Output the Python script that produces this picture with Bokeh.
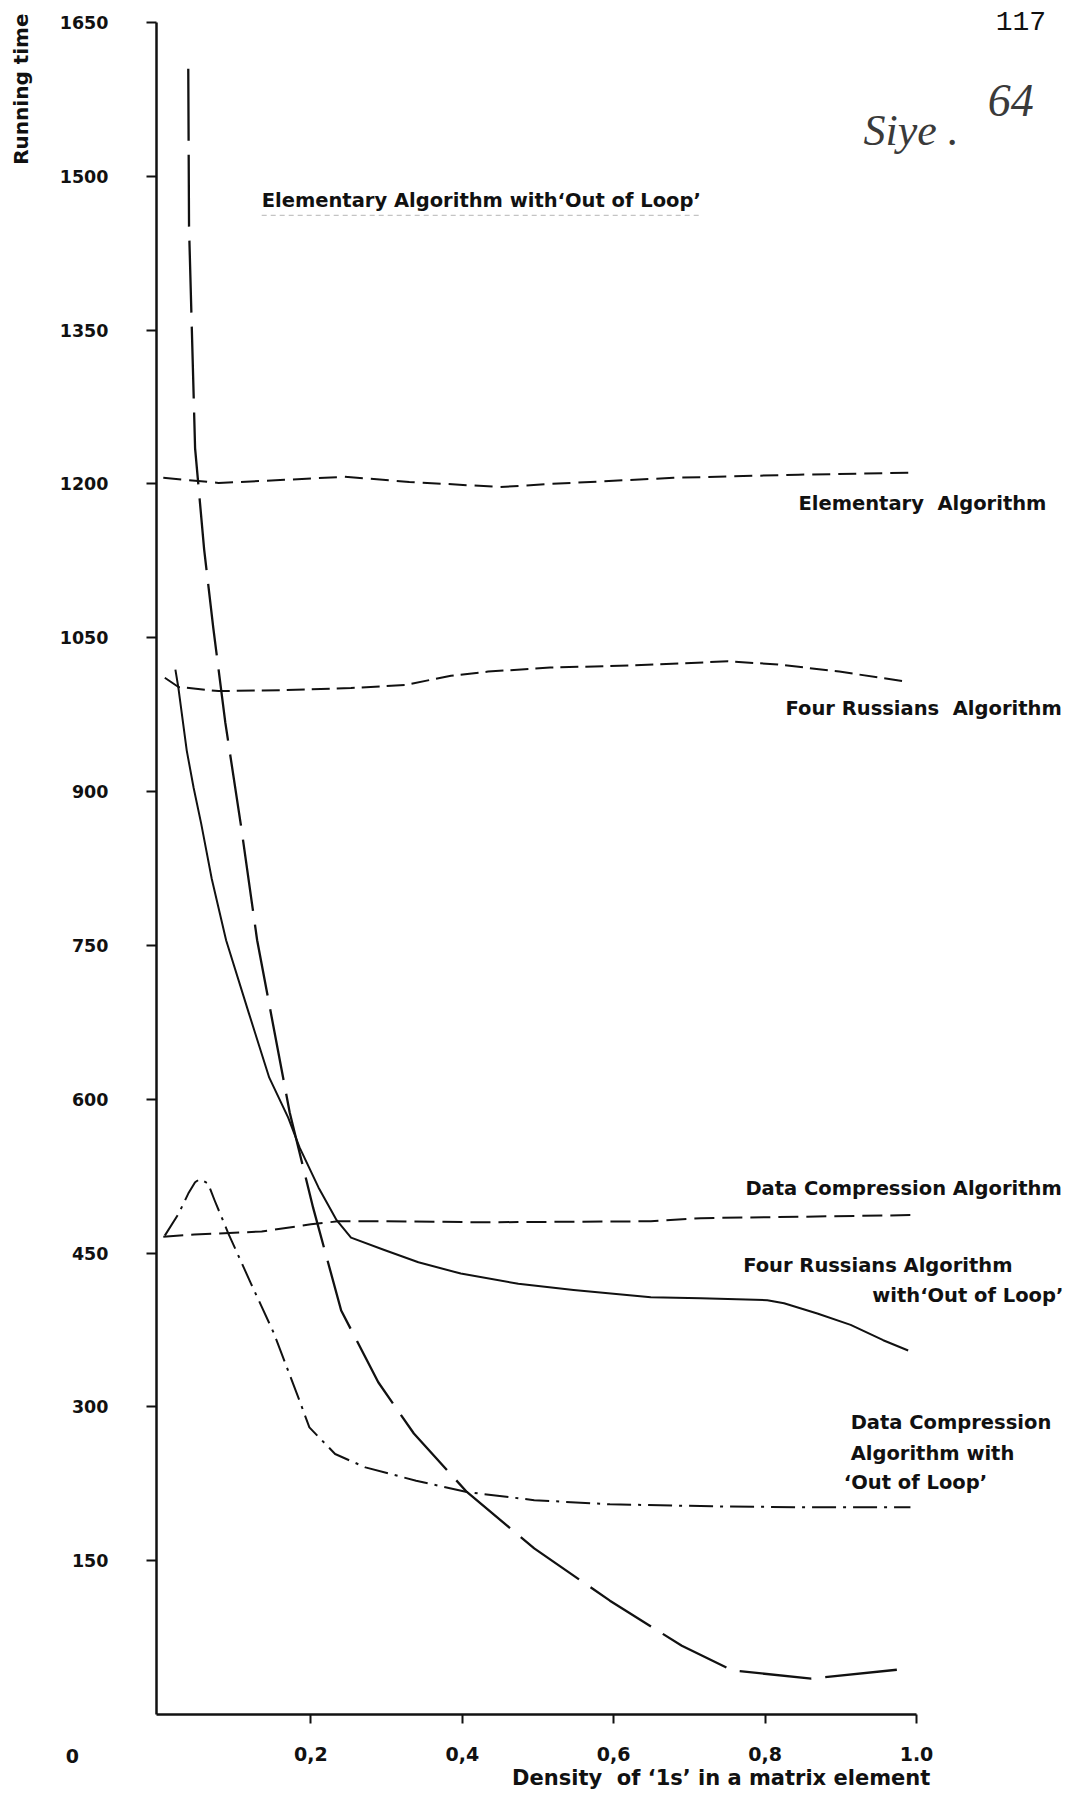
from math import pi

from bokeh.plotting import figure
from bokeh.models import Range1d, FixedTicker, Label
from bokeh.embed import file_html
from bokeh.resources import INLINE

# ---- data: running time against density of '1s' in a matrix element ----
x_ticks = [0.2, 0.4, 0.6, 0.8, 1.0]
x_tick_labels = ["0,2", "0,4", "0,6", "0,8", "1.0"]
y_ticks = [150, 300, 450, 600, 750, 900, 1050, 1200, 1350, 1500, 1650]

# Elementary Algorithm
elem_x = [0.005, 0.078, 0.165, 0.244, 0.33, 0.45, 0.516, 0.679, 0.844, 0.997]
elem_y = [1206, 1201, 1204, 1207, 1202, 1197, 1200, 1206, 1209, 1211]

# Four Russians Algorithm
four_x = [0.007, 0.025, 0.078, 0.165, 0.253, 0.325, 0.385, 0.434, 0.516, 0.625,
          0.751, 0.817, 0.898, 0.989]
four_y = [1011, 1002, 998, 999, 1001, 1004, 1013, 1017, 1021, 1023,
          1027, 1024, 1017, 1007]

# Data Compression Algorithm
comp_x = [0.005, 0.046, 0.135, 0.2, 0.236, 0.297, 0.429, 0.649, 0.715, 0.992]
comp_y = [466, 468, 471, 478, 481, 481, 480, 481, 484, 487]

# Elementary Algorithm with 'Out of Loop'
elem_ool_x = [0.038, 0.039, 0.047, 0.059, 0.071, 0.087, 0.108, 0.129, 0.172, 0.203,
              0.240, 0.289, 0.336, 0.406, 0.495, 0.595, 0.690, 0.757, 0.861, 0.992]
elem_ool_y = [1605, 1451, 1235, 1136, 1060, 967, 865, 755, 587, 494,
              394, 324, 274, 217, 162, 111, 67, 43, 35, 45]

# Four Russians Algorithm with 'Out of Loop'
four_ool_x = [0.021, 0.025, 0.036, 0.045, 0.055, 0.069, 0.088, 0.118, 0.145, 0.170,
              0.185, 0.210, 0.234, 0.253, 0.297, 0.342, 0.398, 0.474, 0.547, 0.649,
              0.715, 0.803, 0.825, 0.869, 0.913, 0.956, 0.989]
four_ool_y = [1019, 1001, 940, 904, 869, 815, 755, 684, 621, 582,
              553, 514, 482, 465, 453, 441, 430, 420, 414, 407,
              406, 404, 401, 391, 380, 365, 355]

# Data Compression Algorithm with 'Out of Loop'
comp_ool_x = [0.007, 0.025, 0.038, 0.047, 0.053, 0.064, 0.073, 0.091, 0.121, 0.151,
              0.185, 0.198, 0.232, 0.272, 0.339, 0.406, 0.495, 0.595, 0.730, 0.864, 0.992]
comp_ool_y = [467, 488, 508, 519, 522, 518, 501, 469, 420, 372,
              306, 280, 254, 241, 228, 217, 209, 205, 203, 202, 202]

# ---- styling ----
FONT = "DejaVu Sans"
INK = "#111111"
NAME_SIZE = "19.5px"
GAP = "\u00a0 "      # wide word gap that SVG does not collapse
W, H = 1076, 1796

# The plotting frame covers the whole page so the side texts are not clipped;
# the axes are pinned inside it at x = -0.004 and y = 0.
X_PX, Y_PX = 757.0, 1692.0 / 1650.0       # pixels per data unit
X0_PX, Y0_PX = 159.0, 1714.0               # page position of the origin
x_range = Range1d(-X0_PX / X_PX, (W - X0_PX) / X_PX)
y_range = Range1d(-(H - Y0_PX) / Y_PX, Y0_PX / Y_PX)

p = figure(width=W, height=H, output_backend="svg", toolbar_location=None,
           x_range=x_range, y_range=y_range,
           min_border_left=0, min_border_right=0,
           min_border_top=0, min_border_bottom=0)
p.outline_line_color = None
p.grid.visible = False
p.background_fill_color = "white"
p.border_fill_color = "white"

p.xaxis.ticker = FixedTicker(ticks=x_ticks)
p.xaxis.major_label_overrides = {t: s for t, s in zip(x_ticks, x_tick_labels)}
p.xaxis.fixed_location = 0
p.xaxis.bounds = (-0.004, 1.0)
p.yaxis.ticker = FixedTicker(ticks=y_ticks)
p.yaxis.fixed_location = -0.004
p.yaxis.bounds = (0, 1650)

for ax in (p.xaxis[0], p.yaxis[0]):
    ax.axis_line_width = 2.5
    ax.axis_line_color = INK
    ax.major_tick_line_width = 2
    ax.major_tick_line_color = INK
    ax.minor_tick_line_color = None
    ax.major_tick_in = 0
    ax.major_label_text_font = FONT
    ax.major_label_text_font_style = "bold"
    ax.major_label_text_color = INK

p.xaxis.major_tick_out = 9
p.xaxis.major_label_standoff = 23
p.xaxis.major_label_text_font_size = "19px"
p.yaxis.major_tick_out = 10
p.yaxis.major_label_standoff = 38
p.yaxis.major_label_text_font_size = "17.5px"

# ---- curves ----
common = dict(line_color=INK, line_join="round")
p.line(elem_x, elem_y, line_width=2, line_dash="18 8", **common)
p.line(four_x, four_y, line_width=2, line_dash="18 7", **common)
p.line(comp_x, comp_y, line_width=2, line_dash="20 8", **common)
p.line(elem_ool_x, elem_ool_y, line_width=2.3, line_dash="72 14", **common)
p.line(four_ool_x, four_ool_y, line_width=2, **common)
p.line(comp_ool_x, comp_ool_y, line_width=2, line_dash="24 7 3 7", **common)

# faint pencil guide under the top series name
p.line([0.135, 0.715], [1462, 1462], line_color="#c4c4c4", line_width=1.2,
       line_dash="5 4")


def label(x, y, text, size=NAME_SIZE, align="left", baseline="middle",
          font=FONT, style="bold", color=INK, angle=0.0):
    p.add_layout(Label(x=x, y=y, text=text, text_font=font, text_font_size=size,
                       text_font_style=style, text_color=color, text_align=align,
                       text_baseline=baseline, angle=angle))


# series names
label(0.135, 1476, "Elementary Algorithm with\u2018Out of Loop\u2019")
label(0.844, 1181, "Elementary" + GAP + "Algorithm")
label(0.827, 981, "Four Russians" + GAP + "Algorithm")
label(0.774, 513, "Data Compression Algorithm")
label(0.771, 438, "Four Russians Algorithm")
label(1.194, 409, "with\u2018Out of Loop\u2019", align="right")
label(0.913, 285, "Data Compression")
label(0.913, 255, "Algorithm with")
label(0.904, 226, "\u2018Out of Loop\u2019")

# axis titles and the origin
label(-0.1836, 1585, "Running time", size="20px", align="center", angle=pi / 2)
label(0.742, -62, "Density" + GAP + "of \u20181s\u2019 in a matrix element",
      size="21px", align="center")
label(-0.115, -40, "0", size="19px", align="center")

# page number and handwritten note
label(1.138, 1651, "117", size="28px", align="center", font="Liberation Mono", style="normal")
label(0.930, 1545, "Siye .", size="44px", baseline="alphabetic",
      font="Liberation Serif", style="italic", color="#3a3a3a")
label(1.094, 1574, "64", size="46px", baseline="alphabetic",
      font="Liberation Serif", style="italic", color="#3a3a3a")

open("out.html", "w").write(file_html(p, INLINE))
